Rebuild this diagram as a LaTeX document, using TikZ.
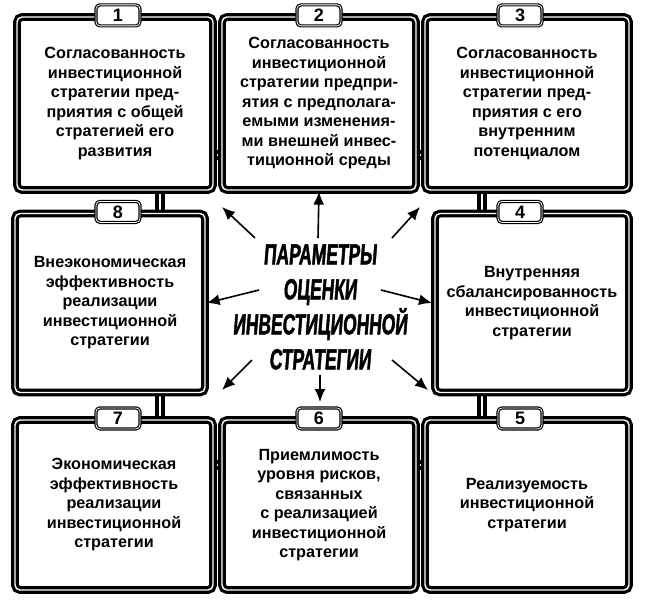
\documentclass[tikz,border=0pt]{standalone}
\usepackage{fontspec}
\setmainfont{Liberation Sans}
\newfontfamily\narrowfont[FakeStretch=0.6,FakeSlant=0.08,FakeBold=1.5]{Liberation Sans}
\usetikzlibrary{arrows.meta}

\begin{document}
\begin{tikzpicture}[x=1pt,y=-1pt,thick,
    box/.style={draw,line width=3.2pt,double=white,double distance=1.4pt,rounded corners=5pt,fill=white,
        align=center,font=\fontsize{16.2}{19.5}\selectfont\bfseries,inner sep=4pt},
    tab/.style={draw,line width=1.2pt,double=white,double distance=0.8pt,rounded corners=4pt,fill=white,
        minimum width=44pt,minimum height=21pt,inner sep=0pt,font=\fontsize{18}{18}\selectfont\bfseries},
    link/.style={draw,line width=4pt,double=white,double distance=1.6pt},
    ray/.style={-{Latex[length=13pt,width=11pt]},line width=1.6pt}]
    \useasboundingbox (0,0) rectangle (645,602);

    % links behind the boxes
    \draw[link] (160,100) -- (160,500);
    \draw[link] (482,100) -- (482,500);
    \draw[link] (110,155) -- (530,155);
    \draw[link] (110,465) -- (530,465);

    \node[box,minimum width=196pt,minimum height=173pt] (b1) at (115,103.5) {Согласованность\\инвестиционной\\стратегии пред-\\приятия с общей\\стратегией его\\развития};
    \node[box,minimum width=194pt,minimum height=173pt] (b2) at (319,103.5) {Согласованность\\инвестиционной\\стратегии предпри-\\ятия с предполага-\\емыми изменения-\\ми внешней инвес-\\тиционной среды};
    \node[box,minimum width=204pt,minimum height=173pt] (b3) at (527,103.5) {Согласованность\\инвестиционной\\стратегии пред-\\приятия с его\\внутренним\\потенциалом};
    \node[box,minimum width=190pt,minimum height=179pt] (b8) at (110,303) {Внеэкономическая\\эффективность\\реализации\\инвестиционной\\стратегии};
    \node[box,minimum width=194pt,minimum height=179pt] (b4) at (532,303) {Внутренняя\\сбалансированность\\инвестиционной\\стратегии};
    \node[box,minimum width=198pt,minimum height=170pt] (b7) at (114,505) {Экономическая\\эффективность\\реализации\\инвестиционной\\стратегии};
    \node[box,minimum width=194pt,minimum height=170pt] (b6) at (319,505) {Приемлимость\\уровня рисков,\\связанных\\с реализацией\\инвестиционной\\стратегии};
    \node[box,minimum width=204pt,minimum height=170pt] (b5) at (527,505) {Реализуемость\\инвестиционной\\стратегии};

    \foreach \b/\n/\dx in {b1/1/3,b2/2/0,b3/3/-7,b4/4/-12,b5/5/-7,b6/6/0,b7/7/4,b8/8/8}
        \node[tab] (t\n) at ([xshift=\dx pt]\b.north) {\n};

    \node[align=center,font=\narrowfont\fontsize{29}{35}\selectfont\bfseries] (c) at (320,307)
        {ПАРАМЕТРЫ\\ОЦЕНКИ\\ИНВЕСТИЦИОННОЙ\\СТРАТЕГИИ};

    \coordinate (cn) at (318,238);
    \coordinate (cs) at (320,375);
    \draw[ray] (cn) -- (t2 |- b2.south);
    \draw[ray] (255,238) -- (222,207);
    \draw[ray] (392,238) -- (420,207);
    \draw[ray] (c.west) ++(30,-17) -- (b8.east);
    \draw[ray] (c.east) ++(-30,-17) -- (b4.east -| 432,0);
    \draw[ray] (252,360) -- (222,390);
    \draw[ray] (392,360) -- (428,390);
    \draw[ray] (cs) -- (320,402);
\end{tikzpicture}
\end{document}
